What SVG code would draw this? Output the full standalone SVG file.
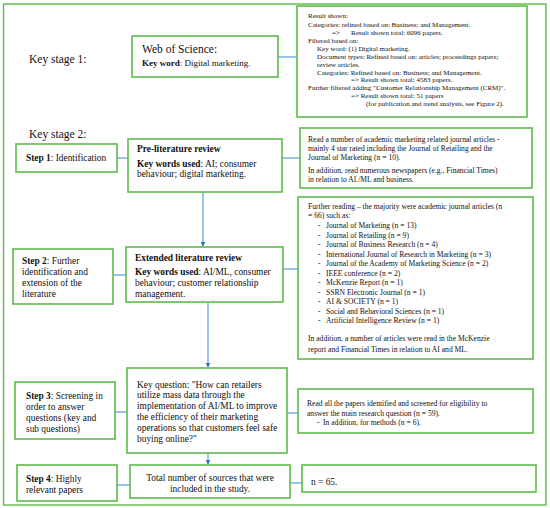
<svg xmlns="http://www.w3.org/2000/svg" width="550" height="508" viewBox="0 0 550 508">
<defs>
<style>
.box{fill:#fff;stroke:#5dbb4a;stroke-width:1.6}
.frame{fill:#fff;stroke:#5dbb4a;stroke-width:1.4}
.ln{stroke:#5b9bd5;stroke-width:1.2;fill:none}
text{font-family:"Liberation Serif","Times New Roman",serif;fill:#111}
.big{font-size:11.5px}
.m{font-size:9.4px}
.s{font-size:7.6px}
.xs{font-size:7px}
.b{font-weight:bold}
</style>
<marker id="ah" viewBox="0 0 10 10" refX="9" refY="5" markerWidth="5" markerHeight="5" orient="auto" markerUnits="userSpaceOnUse">
<path d="M0,0 L10,5 L0,10 z" fill="#1f6fcf"/>
</marker>
<linearGradient id="sep" x1="0" x2="1" y1="0" y2="0">
<stop offset="0" stop-color="#4a86d0"/>
<stop offset="1" stop-color="#2f6fc8"/>
</linearGradient>
</defs>
<rect class="frame" x="3.5" y="4" width="542.5" height="501"/>
<line x1="16" y1="123" x2="531" y2="123" stroke="url(#sep)" stroke-width="1.6"/>

<g id="connectors">
<line class="ln" x1="278" y1="57" x2="297" y2="57"/>
<line class="ln" x1="117" y1="158" x2="128" y2="158"/>
<line class="ln" x1="282" y1="158" x2="300" y2="158"/>
<line class="ln" x1="203" y1="192" x2="203" y2="246" marker-end="url(#ah)"/>
<line class="ln" x1="113" y1="275" x2="126" y2="275"/>
<line class="ln" x1="283" y1="269" x2="298" y2="269"/>
<line class="ln" x1="208" y1="302" x2="208" y2="367" marker-end="url(#ah)"/>
<line class="ln" x1="115" y1="412" x2="127" y2="412"/>
<line class="ln" x1="287" y1="413" x2="298" y2="413"/>
<line class="ln" x1="208" y1="453" x2="208" y2="464" marker-end="url(#ah)"/>
<line class="ln" x1="117" y1="485" x2="130" y2="485"/>
<line class="ln" x1="290" y1="483" x2="302" y2="483"/>
</g>

<g id="stage1-label"><text class="big" x="29" y="63">Key stage 1:</text></g>
<g id="stage2-label"><text class="big" x="29" y="138">Key stage 2:</text></g>

<g id="wos">
<rect class="box" x="132" y="36" width="146" height="41"/>
<text class="big" x="142" y="53">Web of Science:</text>
<text x="142" y="66" style="font-size:9px"><tspan class="b">Key word</tspan>: Digital marketing.</text>
</g>

<g id="result">
<rect class="box" x="297" y="6" width="230" height="111"/>
<text class="xs" x="308" y="18">Result shown:</text>
<text class="xs" x="308" y="27">Categories:  refined based on: Business; and Management.</text>
<text class="xs" x="332" y="35">=&gt;</text>
<text class="xs" x="351" y="35">Result shown total:  6096 papers.</text>
<text class="xs" x="308" y="43">Filtered based on:</text>
<text class="xs" x="317" y="51">Key word: (1) Digital marketing.</text>
<text class="xs" x="317" y="59">Document types: Refined based on: articles; proceedings papers;</text>
<text class="xs" x="317" y="67">review articles.</text>
<text class="xs" x="317" y="75">Categories:  Refined based on: Business; and Management.</text>
<text class="xs" x="351" y="82">=&gt; Result shown total: 4583 papers.</text>
<text class="xs" x="308" y="90">Further filtered  adding "Customer Relationship Management (CRM)".</text>
<text class="xs" x="351" y="98">=&gt; Result shown total: 51 papers</text>
<text class="xs" x="366" y="106">(for publication  and trend analysis,  see Figure 2).</text>
</g>

<g id="step1">
<rect class="box" x="16" y="144" width="101" height="28"/>
<text class="m" x="26" y="161"><tspan class="b">Step 1</tspan>: Identification</text>
</g>

<g id="prelit">
<rect class="box" x="128" y="139" width="154" height="53"/>
<text class="m b" x="137" y="152">Pre-literature  review</text>
<text class="m" x="137" y="167"><tspan class="b">Key words used</tspan>: AI; consumer</text>
<text class="m" x="137" y="177">behaviour; digital marketing.</text>
</g>

<g id="read1">
<rect class="box" x="300" y="128" width="232" height="60"/>
<text class="s" x="308" y="142">Read a number of academic  marketing related journal articles -</text>
<text class="s" x="308" y="151">mainly 4 star rated including the Journal of Retailing and the</text>
<text class="s" x="308" y="160">Journal of Marketing (n = 10).</text>
<text class="s" x="308" y="173">In addition, read numerous newspapers  (e.g., Financial Times)</text>
<text class="s" x="308" y="182">in relation to AI./ML and business.</text>
</g>

<g id="step2">
<rect class="box" x="13" y="249" width="100" height="55"/>
<text class="m" x="22" y="264"><tspan class="b">Step 2</tspan>: Further</text>
<text class="m" x="22" y="275">identification and</text>
<text class="m" x="22" y="286">extension of the</text>
<text class="m" x="22" y="297">literature</text>
</g>

<g id="extlit">
<rect class="box" x="126" y="247" width="157" height="55"/>
<text class="m b" x="135" y="261">Extended literature  review</text>
<text class="m" x="135" y="275"><tspan class="b">Key words used</tspan>: AI/ML, consumer</text>
<text class="m" x="135" y="286">behaviour; customer relationship</text>
<text class="m" x="135" y="297">management.</text>
</g>

<g id="further">
<rect class="box" x="298" y="197" width="235" height="162"/>
<text class="s" x="308" y="209">Further reading – the majority were academic journal articles (n</text>
<text class="s" x="308" y="218">= 66) such as:</text>
<g class="s">
<text x="318" y="228">-</text><text x="326" y="228">Journal of Marketing (n = 13)</text>
<text x="318" y="237.5">-</text><text x="326" y="237.5">Journal of Retailing  (n = 9)</text>
<text x="318" y="247">-</text><text x="326" y="247">Journal of Business Research  (n = 4)</text>
<text x="318" y="256.5">-</text><text x="326" y="256.5">International Journal of Research  in Marketing  (n = 3)</text>
<text x="318" y="266">-</text><text x="326" y="266">Journal of the Academy  of Marketing Science  (n = 2)</text>
<text x="318" y="275.5">-</text><text x="326" y="275.5">IEEE conference (n = 2)</text>
<text x="318" y="285">-</text><text x="326" y="285">McKenzie Report (n = 1)</text>
<text x="318" y="294.5">-</text><text x="326" y="294.5">SSRN Electronic Journal (n = 1)</text>
<text x="318" y="304">-</text><text x="326" y="304">AI &amp; SOCIETY (n = 1)</text>
<text x="318" y="313.5">-</text><text x="326" y="313.5">Social and Behavioral Sciences (n = 1)</text>
<text x="318" y="323">-</text><text x="326" y="323">Artificial Intelligence Review  (n = 1)</text>
</g>
<text class="s" x="308" y="341">In addition, a number of articles were read in the McKenzie</text>
<text class="s" x="308" y="352">report and Financial Times  in relation to  AI and ML.</text>
</g>

<g id="step3">
<rect class="box" x="15" y="382" width="100" height="57"/>
<text class="m" x="26" y="399"><tspan class="b">Step 3</tspan>: Screening in</text>
<text class="m" x="26" y="410">order to answer</text>
<text class="m" x="26" y="421">questions (key and</text>
<text class="m" x="26" y="432">sub questions)</text>
</g>

<g id="keyq">
<rect class="box" x="127" y="368" width="160" height="85"/>
<text class="m" x="137" y="387.5">Key question: "How can retailers</text>
<text class="m" x="137" y="398.3">utilize mass data through the</text>
<text class="m" x="137" y="409.1">implementation of AI/ML to improve</text>
<text class="m" x="137" y="419.9">the efficiency of their marketing</text>
<text class="m" x="137" y="430.7">operations so that customers  feel safe</text>
<text class="m" x="137" y="441.5">buying online?"</text>
</g>

<g id="readall">
<rect class="box" x="298" y="389" width="235" height="44"/>
<text class="s" x="307" y="406">Read all the papers identified and screened  for eligibility to</text>
<text class="s" x="307" y="416">answer the main research question (n = 59).</text>
<text class="s" x="317" y="425">-</text>
<text class="s" x="323" y="425">In addition,  for methods (n = 6).</text>
</g>

<g id="step4">
<rect class="box" x="17" y="465" width="100" height="36"/>
<text class="m" x="26" y="482"><tspan class="b">Step 4</tspan>: Highly</text>
<text class="m" x="26" y="493">relevant papers</text>
</g>

<g id="total">
<rect class="box" x="130" y="465" width="160" height="33"/>
<text class="m" x="210" y="481" text-anchor="middle">Total number of sources that were</text>
<text class="m" x="210" y="492" text-anchor="middle">included in the study.</text>
</g>

<g id="n65">
<rect class="box" x="302" y="465" width="234" height="27"/>
<text class="m" x="311" y="485">n = 65.</text>
</g>
</svg>
